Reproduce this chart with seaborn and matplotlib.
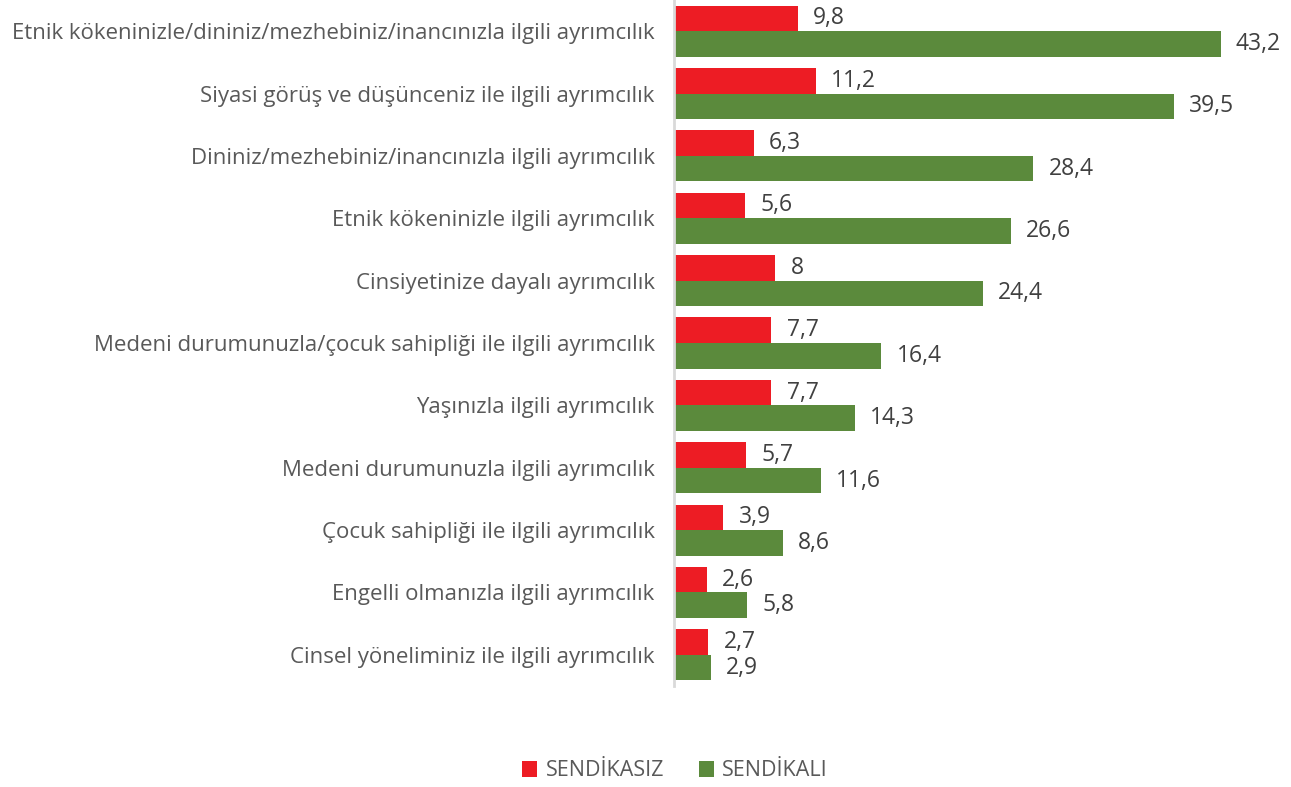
import numpy as np
import pandas as pd
import seaborn as sns
import matplotlib.pyplot as plt
from matplotlib.patches import Patch

categories = [
    "Etnik kökeninizle/dininiz/mezhebiniz/inancınızla ilgili ayrımcılık",
    "Siyasi görüş ve düşünceniz ile ilgili ayrımcılık",
    "Dininiz/mezhebiniz/inancınızla ilgili ayrımcılık",
    "Etnik kökeninizle ilgili ayrımcılık",
    "Cinsiyetinize dayalı ayrımcılık",
    "Medeni durumunuzla/çocuk sahipliği ile ilgili ayrımcılık",
    "Yaşınızla ilgili ayrımcılık",
    "Medeni durumunuzla ilgili ayrımcılık",
    "Çocuk sahipliği ile ilgili ayrımcılık",
    "Engelli olmanızla ilgili ayrımcılık",
    "Cinsel yöneliminiz ile ilgili ayrımcılık",
]
sendikasiz = [9.8, 11.2, 6.3, 5.6, 8, 7.7, 7.7, 5.7, 3.9, 2.6, 2.7]
sendikali = [43.2, 39.5, 28.4, 26.6, 24.4, 16.4, 14.3, 11.6, 8.6, 5.8, 2.9]
series = ["SENDİKASIZ", "SENDİKALI"]
colors = ["#ED1C24", "#5B8A3C"]

df = pd.DataFrame({
    "kategori": categories * 2,
    "deger": sendikasiz + sendikali,
    "grup": [series[0]] * len(categories) + [series[1]] * len(categories),
})

sns.set_theme(style="white")
plt.rcParams["font.family"] = ["Open Sans", "DejaVu Sans"]

fig = plt.figure(figsize=(12.91, 7.87), dpi=100)
ax = fig.add_axes([674 / 1291, 1 - 686 / 787, 606 / 1291, 686 / 787])

sns.barplot(data=df, x="deger", y="kategori", hue="grup", order=categories,
            hue_order=series, palette=colors, width=0.82, orient="h",
            saturation=1, linewidth=0, ax=ax, legend=False)

for cont, vals in zip(ax.containers, [sendikasiz, sendikali]):
    labs = [f"{v:g}".replace(".", ",") for v in vals]
    ax.bar_label(cont, labels=labs, padding=11, fontsize=16.5, color="#404040")

ax.set_xlim(0, 47.9)
ax.set_ylim(len(categories) - 0.5, -0.5)
ax.set_xlabel("")
ax.set_ylabel("")
ax.set_xticks([])
ax.tick_params(axis="y", length=0, pad=14, labelsize=16, labelcolor="#595959")
for s in ["top", "right", "bottom"]:
    ax.spines[s].set_visible(False)
ax.spines["left"].set_color("#D9D9D9")
ax.spines["left"].set_linewidth(2)

handles = [Patch(facecolor=c, edgecolor="none") for c in colors]
fig.legend(handles, series, loc="center", bbox_to_anchor=(675 / 1291, 1 - 771 / 787),
           ncol=2, frameon=False, fontsize=15.5, labelcolor="#595959",
           handlelength=0.7, handleheight=0.7, handletextpad=0.4, columnspacing=1.6)

fig.savefig("out.png", dpi=100)
